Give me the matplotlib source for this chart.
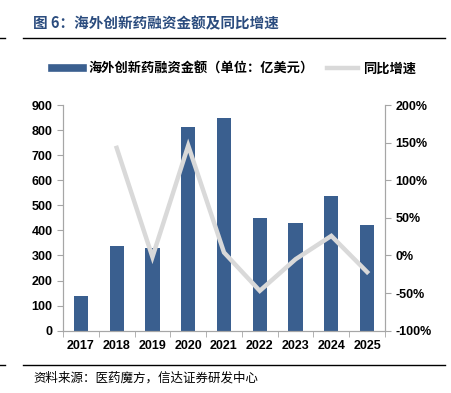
import matplotlib.pyplot as plt
from matplotlib.lines import Line2D
from matplotlib.ticker import FuncFormatter

plt.rcParams['font.family'] = ['Liberation Sans', 'Noto Sans CJK SC', 'DejaVu Sans']

years = ['2017', '2018', '2019', '2020', '2021', '2022', '2023', '2024', '2025']
funding = [138, 338, 330, 813, 848, 451, 428, 538, 420]
growth = [None, 143, -2, 146, 4, -47, -5, 26, -22]

bar_color = '#3A5F8F'
line_color = '#D9D9D9'
spine_color = '#A6A6A6'
title_color = '#2B4C7E'
cjk = ['Noto Sans CJK SC', 'DejaVu Sans']

fig = plt.figure(figsize=(4.51, 3.93), dpi=100)
ax = fig.add_axes([63/451, 62.3/393, (385-63)/451, (330.7-105)/393])
ax2 = ax.twinx()

x = list(range(len(years)))
ax.bar(x, funding, width=0.4, color=bar_color, zorder=2)
gx = [i for i, g in zip(x, growth) if g is not None]
gy = [g for g in growth if g is not None]
ax2.plot(gx, gy, color=line_color, linewidth=3.2, solid_joinstyle='miter')

ax.set_xlim(-0.5, len(years) - 0.5)
ax.set_ylim(0, 900)
ax.set_yticks(range(0, 901, 100))
ax2.set_ylim(-100, 200)
ax2.set_yticks(range(-100, 201, 50))
ax2.yaxis.set_major_formatter(FuncFormatter(lambda v, p: f'{int(v)}%'))

ax.set_xticks(x)
ax.set_xticklabels(years)
ax.set_xticks([i + 0.5 for i in range(-1, len(years))], minor=True)
ax.tick_params(axis='x', which='major', length=0, pad=7)
ax.tick_params(axis='x', which='minor', length=4, color=spine_color)
ax.tick_params(axis='y', length=4, color=spine_color)
ax2.tick_params(axis='y', length=4, color=spine_color)

for a in (ax, ax2):
    a.spines['top'].set_visible(False)
    for s in ('left', 'right', 'bottom'):
        a.spines[s].set_color(spine_color)
    for lab in a.get_xticklabels() + a.get_yticklabels():
        lab.set_fontweight('bold')
        lab.set_fontsize(9)

# title and separator lines
fig.text(33/451, 1 - 23/393, '图 6：海外创新药融资金额及同比增速', family=cjk,
         fontsize=10.5, fontweight='bold', color=title_color, va='center')
fig.add_artist(Line2D([23/451, 445/451], [1 - 38/393] * 2, color='black', linewidth=1))
fig.add_artist(Line2D([0, 5/451], [1 - 38/393] * 2, color='black', linewidth=1))
fig.add_artist(Line2D([23/451, 445/451], [1 - 365/393] * 2, color='black', linewidth=1))
fig.add_artist(Line2D([0, 5/451], [1 - 365/393] * 2, color='black', linewidth=1))
fig.text(33/451, 1 - 378/393, '资料来源：医药魔方，信达证券研发中心', family=cjk,
         fontsize=9, style='italic', color='black', va='center')

# legend
handles = [Line2D([0], [0], color=bar_color, linewidth=5.5),
           Line2D([0], [0], color=line_color, linewidth=3.2)]
leg = fig.legend(handles, ['海外创新药融资金额（单位：亿美元）', '同比增速'],
                 loc='center', bbox_to_anchor=(234/451, 1 - 69/393), ncol=2,
                 frameon=False, handlelength=2.35, handletextpad=0.4,
                 columnspacing=1.0,
                 prop={'family': cjk, 'size': 9.5, 'weight': 'bold'})

fig.savefig('out.png', dpi=100)
